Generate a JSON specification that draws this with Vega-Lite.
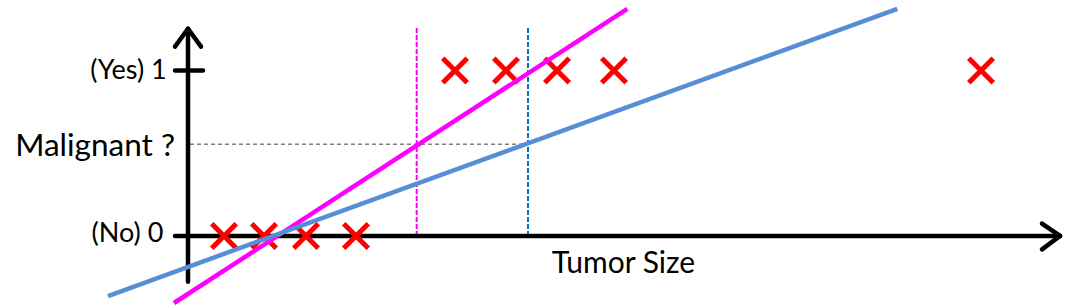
{
  "$schema": "https://vega.github.io/schema/vega-lite/v6.json",
  "width": 1090,
  "height": 306,
  "padding": 0,
  "autosize": {"type": "fit", "contains": "padding"},
  "background": "white",
  "config": {"view": {"stroke": null}},
  "datasets": {
    "axes": [
      {"part": "y axis", "x": 0, "y": -0.2763, "x2": 0, "y2": 1.2523},
      {"part": "y arrow left", "x": -1.3, "y": 1.1441, "x2": 0, "y2": 1.2523},
      {"part": "y arrow right", "x": 1.3, "y": 1.1441, "x2": 0, "y2": 1.2523},
      {"part": "x axis", "x": -1.3, "y": 0, "x2": 87.2, "y2": 0},
      {"part": "x arrow up", "x": 85.4, "y": 0.0751, "x2": 87.2, "y2": 0},
      {"part": "x arrow down", "x": 85.4, "y": -0.0811, "x2": 87.2, "y2": 0},
      {"part": "tick 1", "x": -1.3, "y": 1, "x2": 1.5, "y2": 1}
    ],
    "samples": [
      {"size": 3.6, "malignant": 0},
      {"size": 7.6, "malignant": 0},
      {"size": 11.8, "malignant": 0},
      {"size": 16.8, "malignant": 0},
      {"size": 26.7, "malignant": 1},
      {"size": 31.8, "malignant": 1},
      {"size": 36.9, "malignant": 1},
      {"size": 42.6, "malignant": 1},
      {"size": 79.3, "malignant": 1}
    ],
    "fits": [
      {"fit": "without outlier", "x": -1.4, "y": -0.4054, "x2": 43.93, "y2": 1.3724},
      {"fit": "with outlier", "x": -8.0, "y": -0.3634, "x2": 70.93, "y2": 1.3724}
    ],
    "thresholds": [
      {"fit": "without outlier", "x": 22.87, "y": 0, "x2": 22.87, "y2": 1.2565},
      {"fit": "with outlier", "x": 34.0, "y": 0, "x2": 34.0, "y2": 1.2565}
    ],
    "level": [
      {"x": 0.2, "x2": 34.0, "y": 0.554, "y2": 0.554}
    ],
    "ticklabels": [
      {"text": "(Yes) 1", "x": -2.13, "y": 0.946},
      {"text": "(No) 0", "x": -2.47, "y": -0.039}
    ],
    "ylabel": [
      {"text": "Malignant ?", "x": -1.3, "y": 0.485}
    ],
    "xlabel": [
      {"text": "Tumor Size", "x": 36.37, "y": -0.221}
    ]
  },
  "layer": [
    {
      "data": {"name": "level"},
      "mark": {"type": "rule", "color": "#7F7F7F", "strokeWidth": 1.5, "strokeDash": [4, 3]},
      "encoding": {
        "x": {"field": "x", "type": "quantitative", "scale": {"domain": [-18.8, 90.2], "nice": false, "zero": false}, "axis": null},
        "x2": {"field": "x2"},
        "y": {"field": "y", "type": "quantitative", "scale": {"domain": [-0.4114, 1.4264], "nice": false, "zero": false}, "axis": null},
        "y2": {"field": "y2"}
      }
    },
    {
      "data": {"name": "thresholds"},
      "transform": [{"filter": "datum.fit === 'without outlier'"}],
      "mark": {"type": "rule", "color": "#FF00FF", "strokeWidth": 2, "strokeDash": [5, 2]},
      "encoding": {
        "x": {"field": "x", "type": "quantitative"},
        "x2": {"field": "x2"},
        "y": {"field": "y", "type": "quantitative"},
        "y2": {"field": "y2"}
      }
    },
    {
      "data": {"name": "thresholds"},
      "transform": [{"filter": "datum.fit === 'with outlier'"}],
      "mark": {"type": "rule", "color": "#0070C0", "strokeWidth": 2, "strokeDash": [5, 2]},
      "encoding": {
        "x": {"field": "x", "type": "quantitative"},
        "x2": {"field": "x2"},
        "y": {"field": "y", "type": "quantitative"},
        "y2": {"field": "y2"}
      }
    },
    {
      "data": {"name": "axes"},
      "mark": {"type": "rule", "color": "black", "strokeWidth": 4.5, "strokeCap": "round"},
      "encoding": {
        "x": {"field": "x", "type": "quantitative"},
        "x2": {"field": "x2"},
        "y": {"field": "y", "type": "quantitative"},
        "y2": {"field": "y2"}
      }
    },
    {
      "data": {"name": "samples"},
      "mark": {"type": "point", "shape": "M-1,-1L1,1M1,-1L-1,1", "filled": false, "stroke": "#FF0000", "strokeWidth": 5, "opacity": 1, "size": 600},
      "encoding": {
        "x": {"field": "size", "type": "quantitative"},
        "y": {"field": "malignant", "type": "quantitative"}
      }
    },
    {
      "data": {"name": "fits"},
      "transform": [{"filter": "datum.fit === 'without outlier'"}],
      "mark": {"type": "rule", "color": "#FF00FF", "strokeWidth": 4.5},
      "encoding": {
        "x": {"field": "x", "type": "quantitative"},
        "x2": {"field": "x2"},
        "y": {"field": "y", "type": "quantitative"},
        "y2": {"field": "y2"}
      }
    },
    {
      "data": {"name": "fits"},
      "transform": [{"filter": "datum.fit === 'with outlier'"}],
      "mark": {"type": "rule", "color": "#558ED5", "strokeWidth": 4.5},
      "encoding": {
        "x": {"field": "x", "type": "quantitative"},
        "x2": {"field": "x2"},
        "y": {"field": "y", "type": "quantitative"},
        "y2": {"field": "y2"}
      }
    },
    {
      "data": {"name": "ticklabels"},
      "mark": {"type": "text", "align": "right", "baseline": "alphabetic", "font": "Lato", "fontSize": 27, "color": "black"},
      "encoding": {
        "x": {"field": "x", "type": "quantitative"},
        "y": {"field": "y", "type": "quantitative"},
        "text": {"field": "text"}
      }
    },
    {
      "data": {"name": "ylabel"},
      "mark": {"type": "text", "align": "right", "baseline": "alphabetic", "font": "Lato", "fontSize": 31.5, "color": "black"},
      "encoding": {
        "x": {"field": "x", "type": "quantitative"},
        "y": {"field": "y", "type": "quantitative"},
        "text": {"field": "text"}
      }
    },
    {
      "data": {"name": "xlabel"},
      "mark": {"type": "text", "align": "left", "baseline": "alphabetic", "font": "Lato", "fontSize": 30, "color": "black"},
      "encoding": {
        "x": {"field": "x", "type": "quantitative"},
        "y": {"field": "y", "type": "quantitative"},
        "text": {"field": "text"}
      }
    }
  ]
}
